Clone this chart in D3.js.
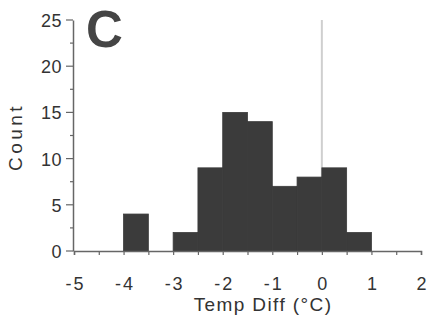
<!DOCTYPE html>
<html><head><meta charset="utf-8">
<script src="https://cdn.jsdelivr.net/npm/d3@7"></script>
<style>body{margin:0;background:#fff}svg{display:block}</style>
</head><body>
<svg id="c" width="432" height="321"></svg>
<script>
const binStarts = [-4, -3, -2.5, -2, -1.5, -1, -0.5, 0, 0.5];
const counts    = [4, 2, 9, 15, 14, 7, 8, 9, 2];
const binWidth = 0.5;
const xTicks = [-5, -4, -3, -2, -1, 0, 1, 2];
const yTicks = [0, 5, 10, 15, 20, 25];
const refLine = 0;

const svg = d3.select("#c");
const x = d3.scaleLinear().domain([-5, 2]).range([74, 421]);
const y = d3.scaleLinear().domain([0, 25]).range([251, 20]);
const axisCol = "#666", textCol = "#333";
const font = "Liberation Sans, Arial, sans-serif";

// reference line at 0
svg.append("line").attr("x1", x(refLine)).attr("x2", x(refLine))
  .attr("y1", y(25)).attr("y2", y(0))
  .attr("stroke", "#cfcfcf").attr("stroke-width", 2);

// bars
svg.append("g").selectAll("rect").data(binStarts).join("rect")
  .attr("x", d => x(d))
  .attr("width", d => x(d + binWidth) - x(d))
  .attr("y", (d, i) => y(counts[i]))
  .attr("height", (d, i) => y(0) - y(counts[i]))
  .attr("fill", "#3b3b3b").attr("stroke", "#3b3b3b").attr("stroke-width", 0.8);

// x axis
const minorX = d3.range(-5, 2.01, 0.5);
const gx = svg.append("g").attr("transform", `translate(0,${y(0)})`)
  .call(d3.axisBottom(x).tickValues(minorX).tickSize(4).tickFormat(""));
gx.select(".domain").attr("stroke", axisCol).attr("stroke-width", 1.5);
gx.selectAll(".tick line").attr("stroke", axisCol).attr("stroke-width", 1.2);
svg.append("g").selectAll("text").data(xTicks).join("text")
  .attr("x", d => x(d) + 1.5).attr("y", 290)
  .attr("text-anchor", "middle").attr("font-family", font).attr("font-size", 18)
  .attr("letter-spacing", 2)
  .attr("fill", textCol).text(d => d < 0 ? "-" + Math.abs(d) : d);

// y axis
const minorY = d3.range(0, 25.01, 2.5);
const gy = svg.append("g").attr("transform", `translate(73,0)`)
  .call(d3.axisLeft(y).tickValues(minorY).tickSize(0).tickFormat(""));
gy.select(".domain").attr("stroke", axisCol).attr("stroke-width", 1.5);
svg.append("g").selectAll("line").data(minorY).join("line")
  .attr("x1", 73).attr("x2", d => (d % 5 === 0) ? 66 : 70)
  .attr("y1", d => y(d)).attr("y2", d => y(d))
  .attr("stroke", axisCol).attr("stroke-width", 1.2);
svg.append("g").selectAll("text").data(yTicks).join("text")
  .attr("x", 62).attr("y", d => y(d) + 7)
  .attr("text-anchor", "end").attr("font-family", font).attr("font-size", 18)
  .attr("letter-spacing", 0.5)
  .attr("fill", textCol).text(d => d);

// labels
svg.append("text").attr("transform", "translate(22,137) rotate(-90)")
  .attr("text-anchor", "middle").attr("font-family", font).attr("font-size", 19)
  .attr("letter-spacing", 3.5)
  .attr("fill", textCol).text("Count");
svg.append("text").attr("x", 263).attr("y", 311)
  .attr("text-anchor", "middle").attr("font-family", font).attr("font-size", 19)
  .attr("letter-spacing", 1.4)
  .attr("fill", textCol).text("Temp Diff (°C)");
svg.append("text").attr("x", 86).attr("y", 47)
  .attr("font-family", font).attr("font-size", 51).attr("font-weight", "bold")
  .attr("fill", "#454545").text("C");
</script>
</body></html>
